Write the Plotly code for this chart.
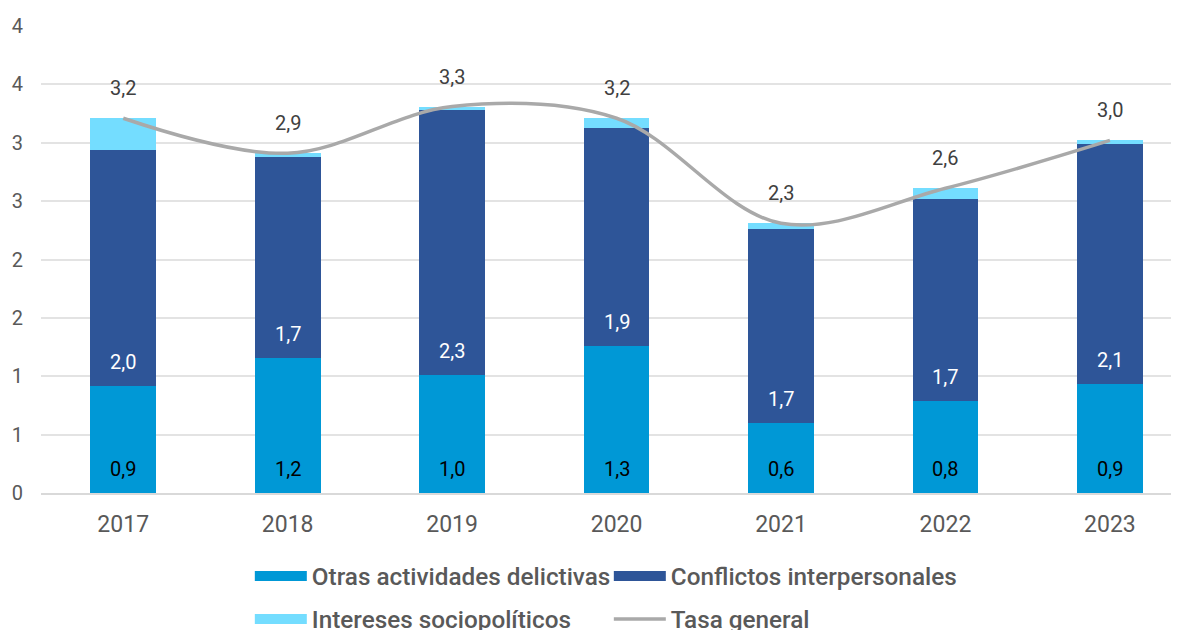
import plotly.graph_objects as go

years = ["2017", "2018", "2019", "2020", "2021", "2022", "2023"]
otras = [0.92, 1.16, 1.01, 1.26, 0.60, 0.79, 0.93]
conflictos = [2.02, 1.72, 2.27, 1.87, 1.66, 1.73, 2.06]
intereses = [0.27, 0.03, 0.03, 0.08, 0.05, 0.09, 0.03]
tasa = [3.21, 2.91, 3.31, 3.21, 2.31, 2.61, 3.02]
ytickvals = [0, 0.5, 1, 1.5, 2, 2.5, 3, 3.5, 4]
yticktext = ["0", "1", "1", "2", "2", "3", "3", "4", "4"]

C_OTRAS = "#0098D6"
C_CONF = "#2E5598"
C_INT = "#74DDFF"
C_LINE = "#A9A9A9"
FONT = "Roboto"
GRAY = "#595959"


def fmt(v):
    return f"{v:.1f}".replace(".", ",")


fig = go.Figure()
fig.add_trace(go.Bar(x=years, y=otras, name="Otras actividades delictivas",
                     marker=dict(color=C_OTRAS, line=dict(width=0)), width=0.4,
                     showlegend=False))
fig.add_trace(go.Bar(x=years, y=conflictos, name="Conflictos interpersonales",
                     marker=dict(color=C_CONF, line=dict(width=0)), width=0.4,
                     showlegend=False))
fig.add_trace(go.Bar(x=years, y=intereses, name="Intereses sociopolíticos",
                     marker=dict(color=C_INT, line=dict(width=0)), width=0.4,
                     showlegend=False))
fig.add_trace(go.Scatter(x=years, y=tasa, name="Tasa general", mode="lines",
                         line=dict(color=C_LINE, width=3.5, shape="spline", smoothing=1),
                         showlegend=False))

# legend proxies
legend_items = [("Otras actividades delictivas", C_OTRAS, 10, "legend"),
                ("Conflictos interpersonales", C_CONF, 10, "legend"),
                ("Intereses sociopolíticos", C_INT, 10, "legend2"),
                ("Tasa general", C_LINE, 3.5, "legend2")]
for name, col, w, lg in legend_items:
    fig.add_trace(go.Scatter(x=[None], y=[None], mode="lines", name=name,
                             line=dict(color=col, width=w), legend=lg))

annotations = []
for i, yr in enumerate(years):
    annotations.append(dict(x=i, y=0, xref="x", yref="y", text=fmt(otras[i]),
                            showarrow=False, yshift=24,
                            font=dict(family=FONT, size=20, color="#000000")))
    annotations.append(dict(x=i, y=otras[i], xref="x", yref="y", text=fmt(conflictos[i]),
                            showarrow=False, yshift=24,
                            font=dict(family=FONT, size=20, color="#FFFFFF")))
    annotations.append(dict(x=i, y=tasa[i], xref="x", yref="y", text=fmt(tasa[i]),
                            showarrow=False, yshift=30,
                            font=dict(family=FONT, size=20, color="#404040")))

legend_common = dict(orientation="h", xanchor="left", yanchor="middle",
                     font=dict(family=FONT, size=24.3, color=GRAY, weight=500),
                     bgcolor="rgba(0,0,0,0)", entrywidth=292, entrywidthmode="pixels",
                     tracegroupgap=0, itemwidth=52, traceorder="normal")

fig.update_layout(
    width=1171, height=622,
    margin=dict(l=33, r=0, t=18, b=137, autoexpand=False),
    paper_bgcolor="white", plot_bgcolor="white",
    barmode="stack",
    font=dict(family=FONT, color=GRAY, size=20),
    xaxis=dict(type="category", range=[-0.5, 6.42], showgrid=False,
               showline=True, linecolor="#D9D9D9", linewidth=1.5,
               ticks="", tickfont=dict(size=23, color=GRAY), ticklabelstandoff=10),
    yaxis=dict(range=[0, 4], tickvals=ytickvals, ticktext=yticktext,
               showgrid=True, gridcolor="#E3E3E3", gridwidth=1.5, zeroline=False,
               ticks="", tickfont=dict(size=20, color=GRAY), ticklabelstandoff=17),
    legend=dict(x=0.1835, y=-0.178, **legend_common),
    legend2=dict(x=0.1835, y=-0.270, **legend_common),
    annotations=annotations,
)

fig.write_html("out.html")
